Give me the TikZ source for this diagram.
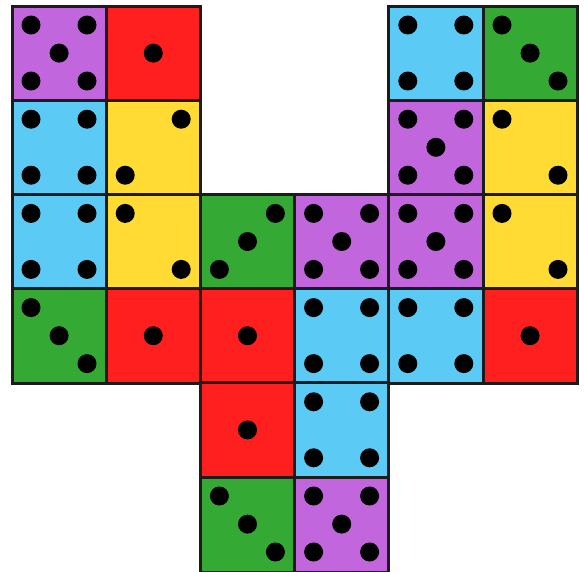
\documentclass[tikz,border=0pt]{standalone}
\definecolor{dpurple}{HTML}{C266DD}
\definecolor{dred}{HTML}{FF1F1F}
\definecolor{dblue}{HTML}{5BCBF5}
\definecolor{dyellow}{HTML}{FFDB33}
\definecolor{dgreen}{HTML}{34A934}
\definecolor{edge}{HTML}{1C1C1C}
\tikzset{
  x=1pt, y=-1pt,
  cellbox/.style={draw=edge, line width=3pt},
  pipdot/.style={fill=black},
  pics/one/.style={code={\fill[pipdot] (47.1,47.1) circle[radius=9.5pt];}},
  pics/twoa/.style={code={\fill[pipdot] (75,19) circle[radius=9.5pt] (19,75) circle[radius=9.5pt];}},
  pics/twob/.style={code={\fill[pipdot] (19,19) circle[radius=9.5pt] (75,75) circle[radius=9.5pt];}},
  pics/threea/.style={code={\fill[pipdot] (19,19) circle[radius=9.5pt] (47.1,47.1) circle[radius=9.5pt] (75,75) circle[radius=9.5pt];}},
  pics/threeb/.style={code={\fill[pipdot] (75,19) circle[radius=9.5pt] (47.1,47.1) circle[radius=9.5pt] (19,75) circle[radius=9.5pt];}},
  pics/four/.style={code={\fill[pipdot] (19,19) circle[radius=9.5pt] (75,19) circle[radius=9.5pt] (19,75) circle[radius=9.5pt] (75,75) circle[radius=9.5pt];}},
  pics/five/.style={code={\fill[pipdot] (19,19) circle[radius=9.5pt] (75,19) circle[radius=9.5pt] (47.1,47.1) circle[radius=9.5pt] (19,75) circle[radius=9.5pt] (75,75) circle[radius=9.5pt];}},
}
\begin{document}
\begin{tikzpicture}
\useasboundingbox (0,0) rectangle (584,571);
\fill[white] (0,0) rectangle (584,571);
\def\S{94.2}
\foreach \c/\r/\col/\f in {
  0/0/dpurple/five, 1/0/dred/one, 4/0/dblue/four, 5/0/dgreen/threea,
  0/1/dblue/four, 1/1/dyellow/twoa, 4/1/dpurple/five, 5/1/dyellow/twob,
  0/2/dblue/four, 1/2/dyellow/twob, 2/2/dgreen/threeb, 3/2/dpurple/five, 4/2/dpurple/five, 5/2/dyellow/twob,
  0/3/dgreen/threea, 1/3/dred/one, 2/3/dred/one, 3/3/dblue/four, 4/3/dblue/four, 5/3/dred/one,
  2/4/dred/one, 3/4/dblue/four,
  2/5/dgreen/threea, 3/5/dpurple/five} {
  \begin{scope}[shift={(12+\c*\S,6+\r*\S)}]
    \filldraw[cellbox, fill=\col] (0,0) rectangle (\S,\S+0.8);
    \pic {\f};
  \end{scope}
}
\end{tikzpicture}
\end{document}
